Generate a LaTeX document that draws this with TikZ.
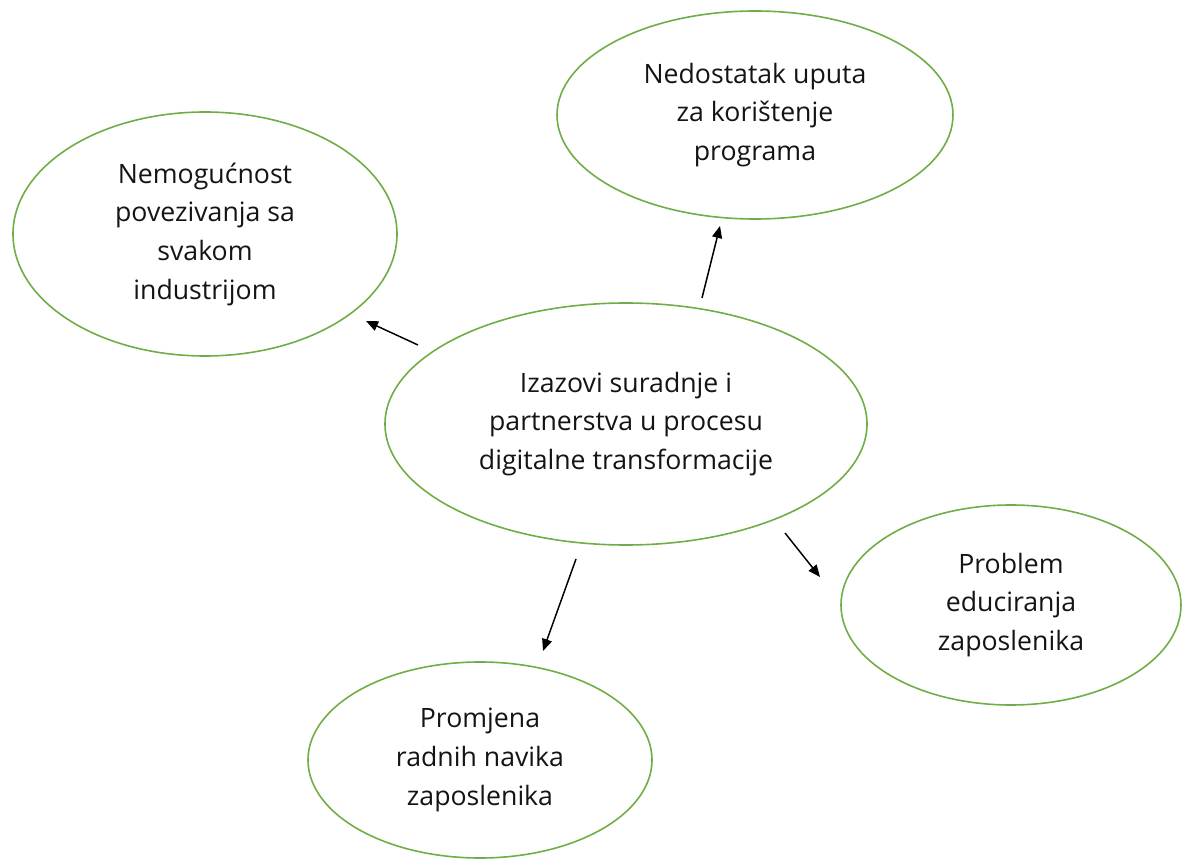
\documentclass[tikz,border=0pt]{standalone}
\usepackage{fontspec}
\setmainfont{Open Sans}
\usetikzlibrary{shapes.geometric,arrows.meta}
\definecolor{ellgreen}{RGB}{112,173,71}
\definecolor{txt}{RGB}{20,20,20}
\tikzset{
  bubble/.style={ellipse, draw=ellgreen, line width=1.2pt, inner sep=0pt,
    align=center, text=txt, font=\fontsize{20}{29}\selectfont},
  conn/.style={-{Triangle[length=9pt,width=7.5pt]}, line width=1.1pt, black}
}
\begin{document}
\begin{tikzpicture}[x=0.75pt,y=-0.75pt]
\useasboundingbox (0,0) rectangle (1183,859);
\node[bubble, minimum width=361.5pt, minimum height=181.5pt] (c) at (626,424)
  {Izazovi suradnje i\\partnerstva u procesu\\digitalne transformacije};
\node[bubble, minimum width=288pt, minimum height=183pt] (tl) at (205,234)
  {Nemogućnost\\povezivanja sa\\svakom\\industrijom};
\node[bubble, minimum width=297pt, minimum height=156pt] (tr) at (755,115)
  {Nedostatak uputa\\za korištenje\\programa};
\node[bubble, minimum width=255pt, minimum height=150pt] (r) at (1011,605)
  {Problem\\educiranja\\zaposlenika};
\node[bubble, minimum width=258pt, minimum height=147pt] (b) at (480,760)
  {Promjena\\radnih navika\\zaposlenika};
\coordinate (a1s) at (418,345); \coordinate (a1e) at (366,321);
\coordinate (a2s) at (702,298); \coordinate (a2e) at (720,226);
\coordinate (a3s) at (576,559); \coordinate (a3e) at (543,651);
\coordinate (a4s) at (785,533); \coordinate (a4e) at (820,577);
\draw[conn] (a1s) -- (a1e);
\draw[conn] (a2s) -- (a2e);
\draw[conn] (a3s) -- (a3e);
\draw[conn] (a4s) -- (a4e);
\end{tikzpicture}
\end{document}
